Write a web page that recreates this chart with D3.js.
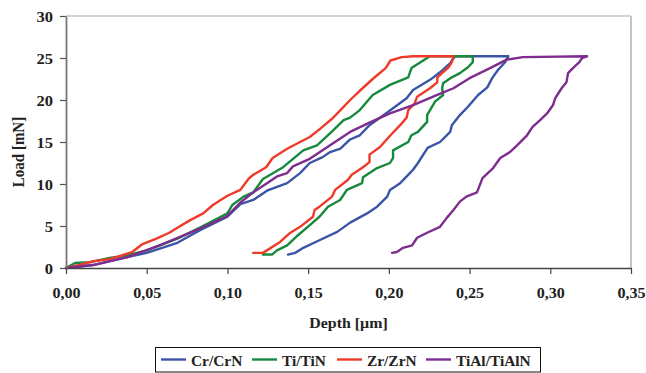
<!DOCTYPE html>
<html><head><meta charset="utf-8">
<script src="https://cdn.jsdelivr.net/npm/d3@7/dist/d3.min.js"></script>
<style>
html,body{margin:0;padding:0;background:#fff;}
svg{display:block;}
text{font-family:"Liberation Serif","Times New Roman",serif;font-weight:bold;fill:#222;}
</style></head>
<body>
<svg id="chart" width="646" height="373"></svg>
<script>
// ---- data (depth in µm, load in mN) ----
const seriesNames = ["Cr/CrN", "Ti/TiN", "Zr/ZrN", "TiAl/TiAlN"];
const xTicks = [0, 0.05, 0.10, 0.15, 0.20, 0.25, 0.30, 0.35];
const yTicks = [0, 5, 10, 15, 20, 25, 30];

const crCrN = [[0,0],[0.0167,0.35],[0.038,1.3],[0.050,1.8],[0.069,3.0],[0.083,4.5],[0.100,6.1],[0.108,7.6],[0.116,8.1],[0.1245,9.2],[0.137,10.1],[0.145,11.3],[0.151,12.5],[0.159,13.2],[0.1636,13.8],[0.170,14.2],[0.176,15.3],[0.182,15.8],[0.188,17.0],[0.199,18.5],[0.211,20.2],[0.215,21.2],[0.2255,22.4],[0.2317,23.3],[0.238,24.4],[0.241,25.2],[0.274,25.2],
  [0.272,24.5],[0.2677,23.6],[0.264,22.6],[0.261,21.5],[0.2553,20.6],[0.249,19.2],[0.244,18.2],[0.239,17.0],[0.238,16.2],[0.2317,15.0],[0.224,14.3],[0.218,12.5],[0.215,11.7],[0.213,11.3],[0.207,10.1],[0.2007,9.3],[0.199,8.5],[0.1927,7.3],[0.1865,6.5],[0.176,5.4],[0.168,4.3],[0.157,3.3],[0.147,2.4],[0.142,1.8],[0.1375,1.6]];

const tiTiN = [[0,0],[0.0056,0.6],[0.015,0.7],[0.027,1.2],[0.038,1.5],[0.050,2.1],[0.069,3.5],[0.083,4.8],[0.095,6.0],[0.100,6.5],[0.103,7.5],[0.110,8.5],[0.116,9.0],[0.122,10.6],[0.1345,12.0],[0.147,14.0],[0.1555,14.6],[0.165,16.3],[0.172,17.6],[0.176,17.9],[0.182,18.8],[0.190,20.6],[0.2007,21.8],[0.212,22.7],[0.214,23.8],[0.2237,25.0],[0.2255,25.2],[0.252,25.2],
  [0.252,24.5],[0.249,23.9],[0.244,23.2],[0.239,22.7],[0.2336,22.0],[0.233,21.4],[0.2336,20.6],[0.2286,19.8],[0.2255,18.8],[0.2237,18.2],[0.2237,17.4],[0.218,16.2],[0.214,15.8],[0.212,15.0],[0.2026,14.0],[0.2026,13.1],[0.2007,12.5],[0.1927,11.9],[0.184,10.8],[0.1834,10.1],[0.174,9.3],[0.1698,8.1],[0.1623,7.3],[0.157,6.1],[0.151,5.1],[0.1437,3.9],[0.137,2.7],[0.1307,2.1],[0.1276,1.6],[0.122,1.6]];

const zrZrN = [[0,0],[0.009,0.4],[0.017,0.8],[0.027,1.05],[0.033,1.4],[0.041,1.9],[0.047,2.8],[0.056,3.5],[0.064,4.2],[0.069,4.8],[0.077,5.7],[0.085,6.5],[0.091,7.5],[0.100,8.6],[0.108,9.3],[0.113,10.6],[0.116,11.1],[0.124,12.0],[0.128,13.1],[0.137,14.2],[0.145,15.0],[0.151,15.6],[0.157,16.5],[0.165,17.8],[0.170,18.8],[0.176,20.0],[0.182,21.1],[0.190,22.5],[0.198,23.8],[0.201,24.7],[0.208,25.1],[0.215,25.2],[0.240,25.2],
  [0.239,24.5],[0.237,23.9],[0.230,22.7],[0.230,22.1],[0.2255,21.4],[0.2175,20.4],[0.216,19.6],[0.212,18.8],[0.211,17.9],[0.207,17.0],[0.201,15.8],[0.1945,14.4],[0.188,13.5],[0.188,12.6],[0.184,12.0],[0.177,11.1],[0.1747,10.5],[0.1667,9.3],[0.1648,8.5],[0.157,7.3],[0.154,6.9],[0.153,6.1],[0.145,4.9],[0.139,4.2],[0.1326,3.1],[0.122,1.8],[0.116,1.8]];

const tiAlTiAlN = [[0,0],[0.0167,0.35],[0.038,1.3],[0.058,2.7],[0.083,4.7],[0.097,5.9],[0.100,6.2],[0.108,7.8],[0.116,9.0],[0.1245,10.1],[0.1307,10.9],[0.137,11.3],[0.1406,12.1],[0.151,13.0],[0.1636,14.6],[0.176,16.2],[0.188,17.3],[0.2007,18.4],[0.215,19.4],[0.230,20.6],[0.240,21.4],[0.250,22.6],[0.2627,23.8],[0.273,24.8],[0.283,25.1],[0.3228,25.2],
  [0.3197,25.0],[0.318,24.5],[0.314,23.8],[0.311,23.2],[0.310,22.1],[0.307,21.4],[0.303,20.2],[0.3017,19.4],[0.298,18.4],[0.2937,17.6],[0.289,16.8],[0.2856,15.8],[0.2794,14.6],[0.275,13.8],[0.269,13.1],[0.2646,11.9],[0.258,10.7],[0.2546,9.0],[0.248,8.5],[0.244,7.9],[0.240,6.9],[0.236,6.0],[0.2317,4.9],[0.2237,4.2],[0.2175,3.6],[0.2144,2.7],[0.2088,2.4],[0.205,1.9],[0.202,1.8]];

const seriesData = [crCrN, tiTiN, zrZrN, tiAlTiAlN];
const colors = ["#3b55a6", "#17893d", "#ef3a2a", "#7d2d8e"];

// ---- layout ----
const svg = d3.select("#chart");
const L = 66, R = 631, T = 16, B = 268;
const x = d3.scaleLinear().domain([0, 0.35]).range([L, R]);
const y = d3.scaleLinear().domain([0, 30]).range([B, T]);
const comma = v => d3.format(".2f")(v).replace(".", ",");

// frame (top/right light)
svg.append("line").attr("x1", L).attr("x2", R).attr("y1", T).attr("y2", T).attr("stroke", "#c4c4c4").attr("stroke-width", 1.5);
svg.append("line").attr("x1", R).attr("x2", R).attr("y1", T).attr("y2", B).attr("stroke", "#b0b0b0").attr("stroke-width", 1.5);

// curves
const line = d3.line().x(d => x(d[0])).y(d => y(d[1]));
svg.append("g").selectAll("path").data(seriesData).join("path")
  .attr("d", line).attr("fill", "none")
  .attr("stroke", (d, i) => colors[i]).attr("stroke-width", 2.4)
  .attr("stroke-linejoin", "round").attr("stroke-linecap", "round");

// axes
const gx = svg.append("g").attr("transform", `translate(0,${B})`)
  .call(d3.axisBottom(x).tickValues(xTicks).tickFormat(comma).tickSize(6).tickSizeOuter(0));
const gy = svg.append("g").attr("transform", `translate(${L},0)`)
  .call(d3.axisLeft(y).tickValues(yTicks).tickFormat(d3.format("d")).tickSize(6).tickSizeOuter(0));
gx.select(".domain").attr("stroke", "#444").attr("stroke-width", 1.6);
gy.select(".domain").attr("stroke", "#777").attr("stroke-width", 1.8);
gx.selectAll(".tick line").attr("stroke", "#444").attr("stroke-width", 1.2);
gy.selectAll(".tick line").attr("stroke", "#555").attr("stroke-width", 1.2);
svg.selectAll(".tick text").attr("font-family", null).attr("font-size", null)
  .style("font-size", "14px").style("fill", "#222");
gx.selectAll(".tick text").attr("y", null).attr("dy", null)
  .attr("transform", "translate(0,30) scale(1.15,1)");
gy.selectAll(".tick text").attr("x", null).attr("dy", null)
  .attr("transform", "translate(-13,5) scale(1.18,1)");
gx.attr("font-family", null); gy.attr("font-family", null);

// axis titles
svg.append("text").attr("text-anchor", "middle")
  .attr("transform", `translate(${(L + R) / 2},328) scale(1.06,1)`)
  .style("font-size", "15px").text("Depth [µm]");
svg.append("text").attr("text-anchor", "middle")
  .attr("transform", `translate(24,${(T + B) / 2 + 10}) scale(1.12,1) rotate(-90)`)
  .style("font-size", "15px").text("Load [mN]");

// legend
const lg = svg.append("g");
lg.append("rect").attr("x", 155.5).attr("y", 347.5).attr("width", 385).attr("height", 24.5)
  .attr("fill", "#fff").attr("stroke", "#111").attr("stroke-width", 1);
const legX = [161, 252, 337, 426];
const items = lg.selectAll("g.item").data(seriesNames).join("g").attr("class", "item")
  .attr("transform", (d, i) => `translate(${legX[i]},0)`);
items.append("line").attr("x1", 0).attr("x2", 25).attr("y1", 359.5).attr("y2", 359.5)
  .attr("stroke", (d, i) => colors[i]).attr("stroke-width", 2.4);
items.append("text").attr("transform", "translate(30,366) scale(1.1,1)")
  .style("font-size", "14px").text(d => d);
</script>
</body></html>
